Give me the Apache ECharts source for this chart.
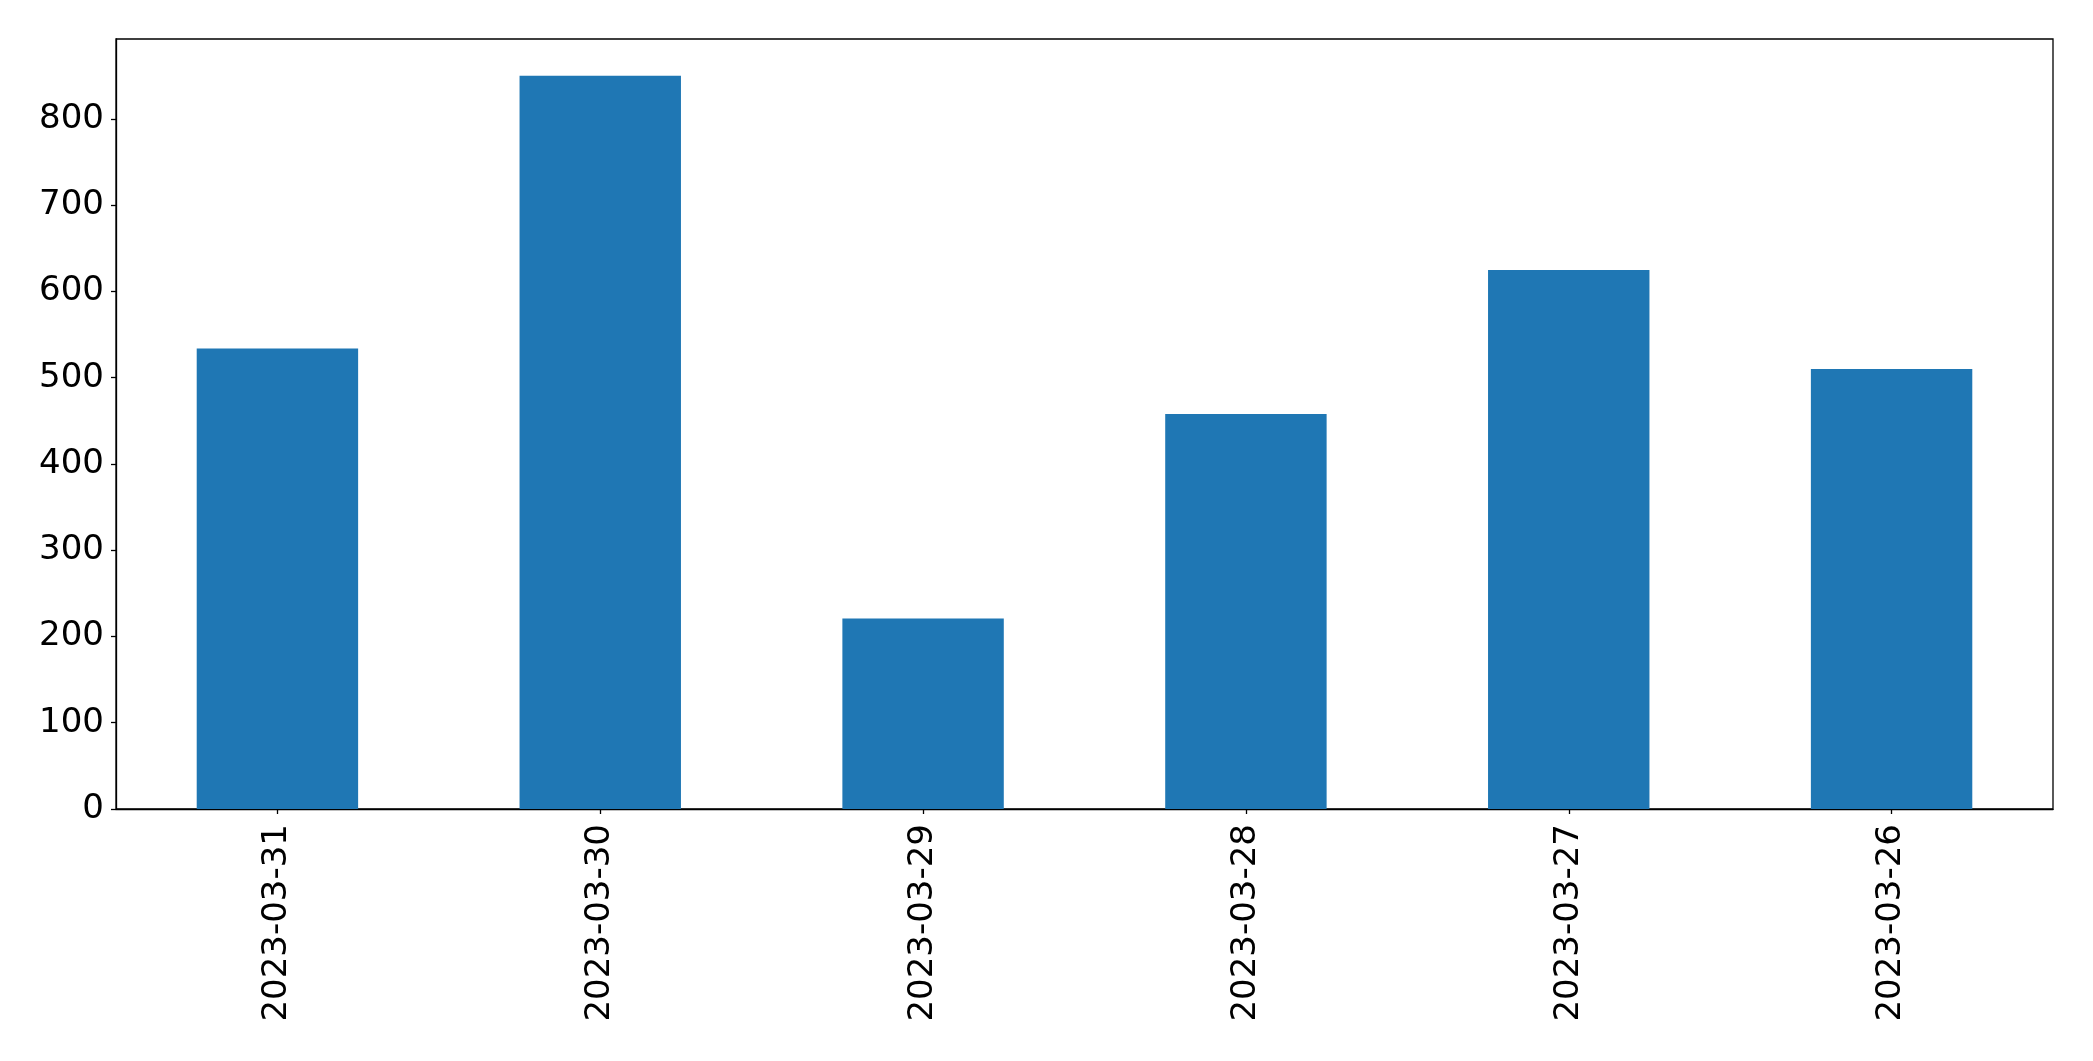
<!DOCTYPE html>
<html>
<head>
<meta charset="utf-8">
<script src="https://cdn.jsdelivr.net/npm/echarts@6/dist/echarts.min.js"></script>
<style>
html,body{margin:0;padding:0;background:#fff;}
#c{width:2093px;height:1061px;}
</style>
</head>
<body>
<div id="c"></div>
<script>
const categories = ['2023-03-31','2023-03-30','2023-03-29','2023-03-28','2023-03-27','2023-03-26'];
const values = [534, 850, 221, 458, 625, 510];
const yTicks = [0,100,200,300,400,500,600,700,800];

const chart = echarts.init(document.getElementById('c'), null, {renderer:'canvas'});
const font = 'DejaVu Sans';
chart.setOption({
  animation: false,
  backgroundColor: '#ffffff',
  grid: {left:116, right:40, top:39, bottom:252, show:true, borderColor:'#000', borderWidth:1.3, backgroundColor:'transparent'},
  xAxis: {
    type:'category',
    data: categories,
    axisLine:{show:true, lineStyle:{color:'#000', width:1.3}},
    axisTick:{show:true, alignWithLabel:true, length:5, lineStyle:{color:'#000', width:1.3}},
    axisLabel:{rotate:90, margin:15, color:'#000', fontFamily:font, fontSize:34},
    splitLine:{show:false}
  },
  yAxis: {
    type:'value',
    min:0, max:892.7, interval:100,
    axisLine:{show:true, lineStyle:{color:'#000', width:1.3}},
    axisTick:{show:true, length:5, customValues: yTicks, lineStyle:{color:'#000', width:1.3}},
    axisLabel:{margin:12, color:'#000', fontFamily:font, fontSize:34, customValues: yTicks,
      formatter: v => String(Math.round(v))},
    splitLine:{show:false}
  },
  series: [{
    type:'bar',
    data: values,
    barWidth:'50%',
    itemStyle:{color:'#1f77b4'}
  }]
});
</script>
</body>
</html>
